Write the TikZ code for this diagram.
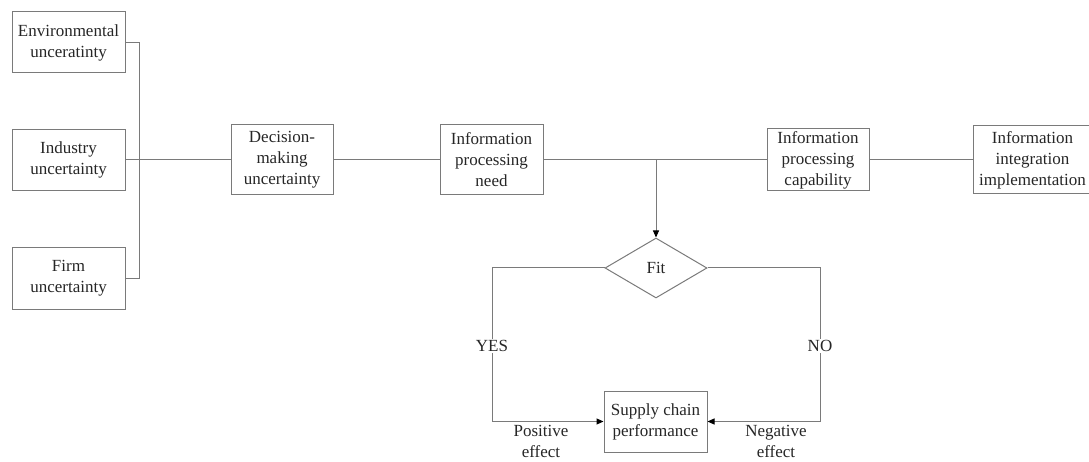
\documentclass[tikz,border=0pt]{standalone}
\usepackage{fontspec}
\setmainfont{Liberation Serif}
\usetikzlibrary{shapes.geometric,arrows.meta}
\definecolor{ln}{HTML}{7A7A7A}
\definecolor{tx}{HTML}{262626}
\tikzset{
  box/.style={draw=ln, line width=1pt, rectangle, align=center, text=tx, inner sep=1pt,
    font=\fontsize{17}{21}\selectfont},
  conn/.style={draw=ln, line width=1pt},
  arr/.style={conn, -{Triangle[length=7pt,width=6pt,fill=black,color=black]}},
  lbl/.style={text=tx, align=center, font=\fontsize{17}{21}\selectfont, inner sep=1pt},
}
\begin{document}
\begin{tikzpicture}[x=1pt,y=-1pt]
\useasboundingbox (0,0) rectangle (1089,462);
\node[box, minimum width=113pt, minimum height=61pt] (env) at (68.5,42.5) {Environmental\\unceratinty};
\node[box, minimum width=113pt, minimum height=61pt] (ind) at (68.5,160) {Industry\\uncertainty};
\node[box, minimum width=113pt, minimum height=61pt] (firm) at (68.5,278.5) {Firm\\uncertainty};
\node[box, minimum width=102pt, minimum height=70pt] (dec) at (282,160) {Decision-\\making\\uncertainty};
\node[box, minimum width=103pt, minimum height=70pt] (need) at (491.5,160) {Information\\processing\\need};
\node[box, minimum width=102pt, minimum height=62pt] (cap) at (818,160) {Information\\processing\\capability};
\node[box, minimum width=119pt, minimum height=68pt] (integ) at (1032.5,160) {Information\\integration\\implementation};
\node[box, shape=diamond, minimum width=102pt, minimum height=60pt, inner sep=0pt] (fit) at (656,268) {Fit};
\node[box, minimum width=103pt, minimum height=61pt] (sup) at (655.5,421.5) {Supply chain\\performance};

\coordinate (jt) at (139,42.5);
\coordinate (jb) at (139,278.5);
\draw[conn] (env.east) -- (jt) -- (jb) -- (firm.east);
\draw[conn] (ind.east) -- (dec.west);
\draw[conn] (dec.east) -- (need.west);
\draw[conn] (need.east) -- (cap.west);
\draw[conn] (cap.east) -- (integ.west);
\coordinate (jn) at (656,160);
\draw[arr] (jn) -- (fit.north);
\coordinate (yc) at (492,268);
\coordinate (nc) at (820,268);
\draw[arr] (fit.west) -- (yc) |- (sup.west);
\draw[arr] (fit.east) -- (nc) |- (sup.east);
\node[lbl, fill=white] (yes) at (492,346) {YES};
\node[lbl, fill=white] (no) at (820,346) {NO};
\node[lbl] (pos) at (541,441) {Positive\\effect};
\node[lbl] (neg) at (776,441) {Negative\\effect};
\end{tikzpicture}
\end{document}
